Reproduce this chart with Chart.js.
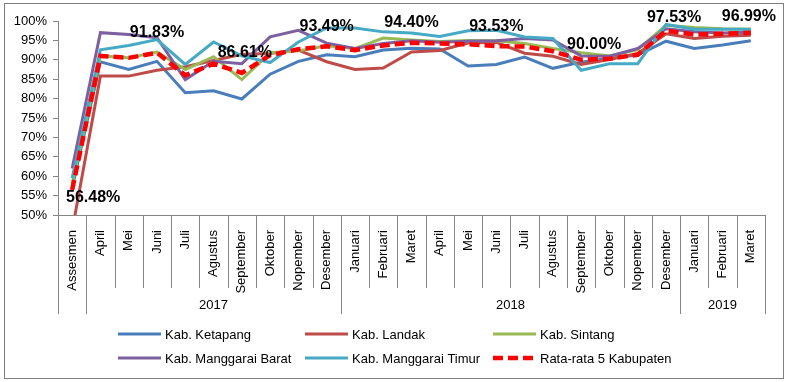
<!DOCTYPE html>
<html>
<head>
<meta charset="utf-8">
<title>Rata-rata 5 Kabupaten</title>
<script src="https://cdn.jsdelivr.net/npm/chart.js@4/dist/chart.umd.min.js"></script>
<style>
  body { margin: 0; background: #fff; }
  canvas { display: block; }
</style>
</head>
<body>
<canvas id="lineChart" width="788" height="382"></canvas>
<script>
// categories (bulan) and year groups
const categories = ['Assesmen', 'April', 'Mei', 'Juni', 'Juli', 'Agustus', 'September', 'Oktober', 'Nopember', 'Desember',
  'Januari', 'Februari', 'Maret', 'April', 'Mei', 'Juni', 'Juli', 'Agustus', 'September', 'Oktober', 'Nopember', 'Desember',
  'Januari', 'Februari', 'Maret'];
const years = ['', '2017', '2018', '2019'];
const yearStart = [0, 1, 10, 22];
const yearEnd = [0, 9, 21, 24];

// series values (%)
const ketapang = [57, 89.5, 87.5, 89.6, 81.5, 82.0, 79.9, 86.3, 89.6, 91.3, 90.8, 92.5, 93.0, 92.8, 88.4, 88.8, 90.7, 87.8, 89.4, 90.4, 91.2, 94.8, 92.9, 93.8, 94.9];
const landak = [46, 85.8, 85.8, 87.3, 88.2, 89.8, 91.4, 91.6, 92.5, 89.5, 87.5, 87.9, 92.0, 92.4, 94.3, 94.5, 91.7, 90.9, 88.8, 90.1, 91.6, 96.7, 95.5, 96.1, 96.3];
const sintang = [58, 91.0, 90.5, 92.0, 87.5, 90.8, 84.9, 91.8, 92.3, 93.6, 92.9, 95.6, 95.1, 94.7, 95.0, 94.9, 94.2, 92.9, 91.8, 91.0, 92.6, 98.9, 98.3, 98.0, 97.9];
const manggaraiBarat = [62, 97.0, 96.5, 95.7, 84.9, 89.6, 89.0, 95.9, 97.6, 94.3, 92.9, 94.2, 94.9, 94.5, 94.8, 94.9, 95.5, 95.1, 91.0, 90.9, 92.9, 98.0, 97.2, 96.9, 97.1];
const manggaraiTimur = [59.5, 92.6, 93.7, 95.2, 88.8, 94.6, 91.0, 89.3, 94.6, 98.2, 98.2, 97.2, 96.9, 96.0, 97.5, 97.6, 95.9, 95.5, 87.3, 89.0, 89.0, 99.1, 97.9, 97.9, 97.9];
const rataRata = [56.48, 91.0, 90.5, 91.83, 86.0, 89.0, 86.61, 91.2, 92.7, 93.49, 92.5, 93.7, 94.40, 94.2, 94.0, 93.53, 93.4, 92.2, 90.00, 90.3, 91.3, 97.53, 96.5, 96.7, 96.99];

// points of the average that get a value label
const labeledPoints = [0, 3, 6, 9, 12, 15, 18, 21, 24];

const yMin = 50, yMax = 100, yStep = 5;

const FONT = 'Arial, "Liberation Sans", sans-serif';
const AXIS = '#868686';

// label nudges in px (default is straight above the point)
const labelNudge = { 0: [21, 8], 6: [3, -20], 18: [13, -15], 21: [8, -13], 24: [-2, -16] };

const frame = {
  id: 'frame',
  beforeDraw(chart) {
    const ctx = chart.ctx;
    ctx.save();
    ctx.fillStyle = '#fff';
    ctx.fillRect(0, 0, chart.width, chart.height);
    ctx.strokeStyle = '#7f7f7f';
    ctx.lineWidth = 1;
    ctx.strokeRect(4.5, 3.5, 779, 375);
    ctx.restore();
  }
};

const valueLabels = {
  id: 'valueLabels',
  afterDatasetsDraw(chart) {
    const ctx = chart.ctx;
    const meta = chart.getDatasetMeta(5);
    ctx.save();
    ctx.font = 'bold 16px ' + FONT;
    ctx.fillStyle = '#000';
    ctx.textAlign = 'center';
    ctx.textBaseline = 'middle';
    labeledPoints.forEach(i => {
      const pt = meta.data[i];
      const n = labelNudge[i] || [0, -20];
      ctx.fillText(rataRata[i].toFixed(2) + '%', pt.x + n[0], pt.y + n[1]);
    });
    ctx.restore();
  }
};

// multi level category axis (month separators + years) and the legend
const axisExtras = {
  id: 'axisExtras',
  afterDraw(chart) {
    const ctx = chart.ctx;
    const xs = chart.scales.x;
    const area = chart.chartArea;
    const edge = i => {
      if (i <= 0) return area.left;
      if (i >= categories.length) return area.right;
      return (xs.getPixelForValue(i - 1) + xs.getPixelForValue(i)) / 2;
    };
    ctx.save();
    ctx.strokeStyle = AXIS;
    ctx.lineWidth = 1;
    const groupEdges = yearStart.concat([categories.length]);
    for (let i = 0; i <= categories.length; i++) {
      const x = Math.round(edge(i)) + 0.5;
      const long = groupEdges.includes(i);
      ctx.beginPath();
      ctx.moveTo(x, area.bottom);
      ctx.lineTo(x, area.bottom + (long ? 99 : 73));
      ctx.stroke();
    }
    ctx.font = '13px ' + FONT;
    ctx.fillStyle = '#000';
    ctx.textAlign = 'center';
    ctx.textBaseline = 'middle';
    years.forEach((y, k) => {
      if (!y) return;
      const cx = (edge(yearStart[k]) + edge(yearEnd[k] + 1)) / 2;
      ctx.fillText(y, cx, area.bottom + 90);
    });

    // legend, 3 columns x 2 rows
    const colX = [118, 305, 493];
    const rowY = [334, 358];
    ctx.textAlign = 'left';
    chart.data.datasets.forEach((ds, k) => {
      const x = colX[k % 3], y = rowY[Math.floor(k / 3)];
      ctx.save();
      ctx.strokeStyle = ds.borderColor;
      ctx.lineWidth = ds.borderWidth;
      ctx.setLineDash(ds.borderDash || []);
      ctx.beginPath();
      ctx.moveTo(x, y);
      ctx.lineTo(x + 43, y);
      ctx.stroke();
      ctx.restore();
      ctx.fillText(ds.label, x + 47, y + 1);
    });
    ctx.restore();
  }
};

function series(label, data, color, order) {
  return {
    label, data, order,
    borderColor: color,
    backgroundColor: color,
    borderWidth: 3,
    pointRadius: 0,
    tension: 0,
    fill: false
  };
}

const ctx = document.getElementById('lineChart').getContext('2d');
new Chart(ctx, {
  type: 'line',
  data: {
    labels: categories,
    datasets: [
      series('Kab. Ketapang', ketapang, '#4a7ebb', 5),
      series('Kab. Landak', landak, '#be4b48', 4),
      series('Kab. Sintang', sintang, '#98b954', 3),
      series('Kab. Manggarai Barat', manggaraiBarat, '#7d60a0', 2),
      series('Kab. Manggarai Timur', manggaraiTimur, '#46aac5', 1),
      Object.assign(series('Rata-rata 5 Kabupaten', rataRata, '#ff0000', 0), { borderWidth: 4.5, borderDash: [10, 5] })
    ]
  },
  options: {
    responsive: false,
    animation: false,
    devicePixelRatio: 1,
    layout: { padding: { top: 21, right: 23, left: 0, bottom: 0 } },
    scales: {
      x: {
        offset: true,
        grid: { display: false },
        border: { display: true, color: AXIS },
        ticks: {
          autoSkip: false, minRotation: 90, maxRotation: 90, padding: 7,
          color: '#000', font: { family: FONT, size: 13 }
        },
        afterFit(s) { s.height = 167; s.paddingLeft = 0; s.paddingRight = 0; }
      },
      y: {
        min: yMin, max: yMax,
        grid: { display: true, drawOnChartArea: false, drawTicks: true, tickLength: 5, color: AXIS },
        border: { display: true, color: AXIS },
        ticks: {
          stepSize: yStep, padding: 6, color: '#000',
          font: { family: FONT, size: 13 },
          callback: v => v + '%'
        },
        afterFit(s) { s.width = 58; s.paddingTop = 0; s.paddingBottom = 0; }
      }
    },
    plugins: {
      legend: { display: false },
      tooltip: { enabled: false }
    }
  },
  plugins: [frame, valueLabels, axisExtras]
});
</script>
</body>
</html>
